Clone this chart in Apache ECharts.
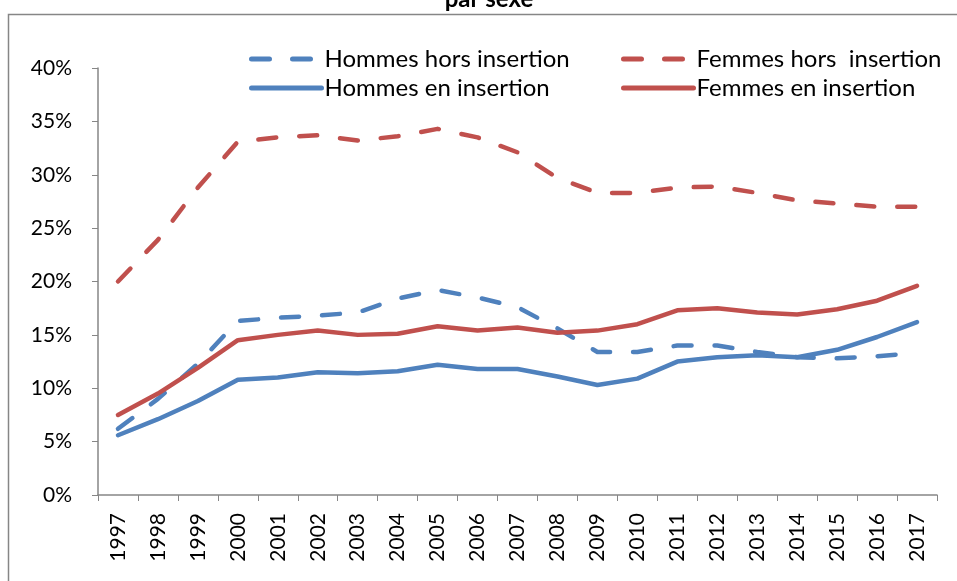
<!DOCTYPE html>
<html>
<head>
<meta charset="utf-8">
<script src="https://cdn.jsdelivr.net/npm/echarts@6/dist/echarts.min.js"></script>
<style>
  html, body { margin: 0; padding: 0; background: #fff; }
  #chart { width: 957px; height: 581px; }
</style>
</head>
<body>
<div id="chart"></div>
<script>
// années
const years = ['1997', '1998', '1999', '2000', '2001', '2002', '2003', '2004', '2005', '2006', '2007',
  '2008', '2009', '2010', '2011', '2012', '2013', '2014', '2015', '2016', '2017']
// taux en %
const hommesHors = [6.2, 9.0, 12.3, 16.3, 16.6, 16.8, 17.1, 18.4, 19.2, 18.5, 17.6,
  15.6, 13.4, 13.4, 14.0, 14.0, 13.4, 12.9, 12.8, 13.0, 13.3]
const femmesHors = [20.0, 23.9, 28.8, 33.1, 33.5, 33.7, 33.2, 33.6, 34.3, 33.5, 32.1,
  29.7, 28.3, 28.3, 28.8, 28.9, 28.3, 27.6, 27.3, 27.0, 27.0]
const hommesEn = [5.6, 7.1, 8.8, 10.8, 11.0, 11.5, 11.4, 11.6, 12.2, 11.8, 11.8,
  11.1, 10.3, 10.9, 12.5, 12.9, 13.1, 12.9, 13.6, 14.8, 16.2]
const femmesEn = [7.5, 9.5, 11.9, 14.5, 15.0, 15.4, 15.0, 15.1, 15.8, 15.4, 15.7,
  15.2, 15.4, 16.0, 17.3, 17.5, 17.1, 16.9, 17.4, 18.2, 19.6]
const yTicks = [0, 5, 10, 15, 20, 25, 30, 35, 40]

const BLUE = '#4F81BD'
const RED = '#C0504D'
const AXIS = '#868686'
const FONT = 'Lato'

function line (name, data, color, dashed) {
  return {
    name: name,
    type: 'line',
    data: data,
    symbol: 'none',
    lineStyle: {
      color: color,
      width: 4.5,
      type: dashed ? [18, 23] : 'solid',
      cap: 'round',
      join: 'round'
    },
    itemStyle: { color: color },
    animation: false
  }
}

// légende commune
const legendBase = {
  top: 42,
  orient: 'vertical',
  itemWidth: 70,
  itemHeight: 14,
  itemGap: 5,
  itemStyle: { opacity: 0 },
  lineStyle: { width: 5, cap: 'round' },
  textStyle: { fontFamily: FONT, fontSize: 24, color: '#000', padding: [0, 0, 0, -2] }
}

let myChart = echarts.init(document.getElementById('chart'))
let option = {
  backgroundColor: '#fff',
  animation: false,
  graphic: [
    {
      type: 'rect',
      shape: { x: 8.5, y: 14.5, width: 1000, height: 700 },
      style: { fill: 'none', stroke: AXIS, lineWidth: 1.5 }
    },
    {
      type: 'text',
      x: 489,
      y: 11,
      style: { text: 'par sexe', fontFamily: FONT, fontSize: 24, fontWeight: 'bold', fill: '#000', textAlign: 'center', textVerticalAlign: 'bottom' }
    }
  ],
  legend: [
    Object.assign({}, legendBase, { left: 244, data: ['Hommes hors insertion', 'Hommes en insertion'] }),
    Object.assign({}, legendBase, { left: 616, data: ['Femmes hors  insertion', 'Femmes en insertion'] })
  ],
  grid: {
    left: 98,
    right: 20,
    top: 68,
    bottom: 86
  },
  xAxis: {
    type: 'category',
    data: years,
    boundaryGap: true,
    axisLine: { lineStyle: { color: AXIS, width: 1.5 } },
    axisTick: { show: true, length: 6, lineStyle: { color: AXIS } },
    axisLabel: {
      rotate: 90,
      margin: 18,
      interval: 0,
      fontFamily: FONT,
      fontSize: 21,
      color: '#000'
    }
  },
  yAxis: {
    type: 'value',
    min: yTicks[0],
    max: yTicks[yTicks.length - 1],
    interval: 5,
    axisLine: { show: true, lineStyle: { color: AXIS, width: 1.5 } },
    axisTick: { show: true, length: 6, lineStyle: { color: AXIS } },
    splitLine: { show: false },
    axisLabel: {
      margin: 26,
      fontFamily: FONT,
      fontSize: 21,
      color: '#000',
      formatter: '{value}%'
    }
  },
  series: [
    line('Hommes hors insertion', hommesHors, BLUE, true),
    line('Femmes hors  insertion', femmesHors, RED, true),
    line('Hommes en insertion', hommesEn, BLUE, false),
    line('Femmes en insertion', femmesEn, RED, false)
  ]
}
myChart.setOption(option)
</script>
</body>
</html>
